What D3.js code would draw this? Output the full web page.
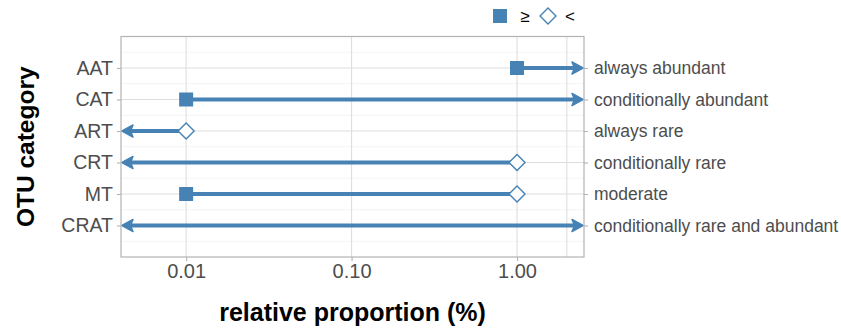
<!DOCTYPE html>
<html><head><meta charset="utf-8">
<script src="https://cdn.jsdelivr.net/npm/d3@7"></script>
<style>body{margin:0;background:#fff}svg{display:block;font-family:"Liberation Sans",Arial,sans-serif}</style>
</head><body><svg id="c" width="841" height="329"></svg>
<script>
// ---- data ----
const categories = ["AAT","CAT","ART","CRT","MT","CRAT"];
const descriptions = ["always abundant","conditionally abundant","always rare","conditionally rare","moderate","conditionally rare and abundant"];
// threshold markers: "ge" = filled square (≥), "lt" = open diamond (<), null = none
const lowValue  = [1,     0.01,  null, null, 0.01, null];
const lowMarker = ["ge",  "ge",  null, null, "ge", null];
const highValue = [null,  null,  0.01, 1,    1,    null];
const highMarker= [null,  null,  "lt", "lt", "lt", null];
const arrowLeft  = [false,false, true, true, false,true];
const arrowRight = [true, true,  false,false,false,true];
const xTicks = [0.01, 0.1, 1];
const xTickLabels = ["0.01","0.10","1.00"];
const extraGrid = [2];
const xDomain = [0.00404, 2.54];

const col = "#4682B4";
const svg = d3.select("#c");
const L = 121, R = 584, T = 36.5, B = 257;
const x = d3.scaleLog().domain(xDomain).range([L, R]);
const y = d3.scalePoint().domain(categories).range([T, B]).padding(1);
const step = y.step();

const g = svg.append("g");
// minor horizontal grid
const minorY = [];
for (let i = 0; i <= categories.length; i++) minorY.push(y(categories[0]) - step/2 + i*step);
g.selectAll(".mg").data(minorY).join("line")
  .attr("x1", L).attr("x2", R).attr("y1", d=>d).attr("y2", d=>d)
  .attr("stroke", "#ededed").attr("stroke-width", 0.6);
// major grid
g.selectAll(".gy").data(categories).join("line")
  .attr("x1", L).attr("x2", R).attr("y1", d=>y(d)).attr("y2", d=>y(d))
  .attr("stroke", "#dedede").attr("stroke-width", 1.1);
g.selectAll(".gx").data(xTicks.concat(extraGrid)).join("line")
  .attr("x1", d=>x(d)).attr("x2", d=>x(d)).attr("y1", T).attr("y2", B)
  .attr("stroke", "#dedede").attr("stroke-width", 1.1);

// segments and arrows
const aLen = 11, aHalf = 6;
function arrowHead(tipX, yy, dir) {
  const bx = tipX - dir*aLen;
  return `M${tipX},${yy}L${bx},${yy-aHalf}L${bx+dir*2.5},${yy}L${bx},${yy+aHalf}Z`;
}
categories.forEach((c, i) => {
  const yy = y(c);
  let x1 = lowValue[i] != null ? x(lowValue[i]) : x(xDomain[0]);
  let x2 = highValue[i] != null ? x(highValue[i]) : x(xDomain[1]);
  const lx1 = arrowLeft[i] ? x(xDomain[0]) + aLen - 2 : x1;
  const lx2 = arrowRight[i] ? x(xDomain[1]) - aLen + 2 : x2;
  g.append("line").attr("x1", lx1).attr("x2", lx2).attr("y1", yy).attr("y2", yy)
    .attr("stroke", col).attr("stroke-width", 4);
  if (arrowLeft[i]) g.append("path").attr("d", arrowHead(x(xDomain[0]) + 1, yy, -1)).attr("fill", col).attr("stroke", col).attr("stroke-width", 1.5).attr("stroke-linejoin","round");
  if (arrowRight[i]) g.append("path").attr("d", arrowHead(x(xDomain[1]) - 1, yy, 1)).attr("fill", col).attr("stroke", col).attr("stroke-width", 1.5).attr("stroke-linejoin","round");
});
function drawMarker(type, cx, cy) {
  if (type === "ge") {
    g.append("rect").attr("x", cx-7).attr("y", cy-7).attr("width", 14).attr("height", 14).attr("fill", col);
  } else if (type === "lt") {
    g.append("path").attr("d", `M${cx},${cy-8}L${cx+8},${cy}L${cx},${cy+8}L${cx-8},${cy}Z`)
      .attr("fill", "#fff").attr("stroke", col).attr("stroke-width", 1.4);
  }
}
categories.forEach((c, i) => {
  if (lowMarker[i]) drawMarker(lowMarker[i], x(lowValue[i]), y(c));
  if (highMarker[i]) drawMarker(highMarker[i], x(highValue[i]), y(c));
});

// panel border
g.append("rect").attr("x", L).attr("y", T).attr("width", R-L).attr("height", B-T)
  .attr("fill", "none").attr("stroke", "#b3b3b3").attr("stroke-width", 1.2);

// axes
const axL = d3.axisLeft(y).tickSize(4).tickPadding(4);
const gl = svg.append("g").attr("transform", `translate(${L},0)`).call(axL);
const axR = d3.axisRight(y).tickSize(4).tickPadding(6).tickFormat((d,i)=>descriptions[i]);
const gr = svg.append("g").attr("transform", `translate(${R},0)`).call(axR);
const axB = d3.axisBottom(x).tickValues(xTicks).tickFormat((d,i)=>xTickLabels[i]).tickSize(4).tickPadding(3);
const gb = svg.append("g").attr("transform", `translate(0,${B})`).call(axB);
[gl, gr, gb].forEach(a => {
  a.select(".domain").remove();
  a.selectAll(".tick line").attr("stroke", "#b3b3b3").attr("stroke-width", 1.1);
  a.selectAll("text").attr("fill", "#4d4d4d").attr("font-family", '"Liberation Sans",Arial,sans-serif');
});
gl.selectAll("text").attr("font-size", 19.5);
gb.selectAll("text").attr("font-size", 20);
gr.selectAll("text").attr("font-size", 17.5);

// titles
svg.append("text").attr("x", (L+R)/2).attr("y", 321).attr("text-anchor", "middle")
  .attr("font-size", 25).attr("font-weight", "bold").attr("fill", "#000").text("relative proportion (%)");
svg.append("text").attr("transform", `translate(34,${(T+B)/2}) rotate(-90)`).attr("text-anchor", "middle")
  .attr("font-size", 24.5).attr("font-weight", "bold").attr("fill", "#000").text("OTU category");

// legend
const lg = svg.append("g");
lg.append("rect").attr("x", 493).attr("y", 9).attr("width", 14).attr("height", 14).attr("fill", col);
lg.append("text").attr("x", 525).attr("y", 22).attr("text-anchor","middle").attr("font-size", 17).attr("fill", "#000").text("≥");
lg.append("path").attr("d", "M548,8L556,16L548,24L540,16Z").attr("fill", "#fff").attr("stroke", col).attr("stroke-width", 1.4);
lg.append("text").attr("x", 570).attr("y", 22).attr("text-anchor","middle").attr("font-size", 17).attr("fill", "#000").text("<");
</script></body></html>
